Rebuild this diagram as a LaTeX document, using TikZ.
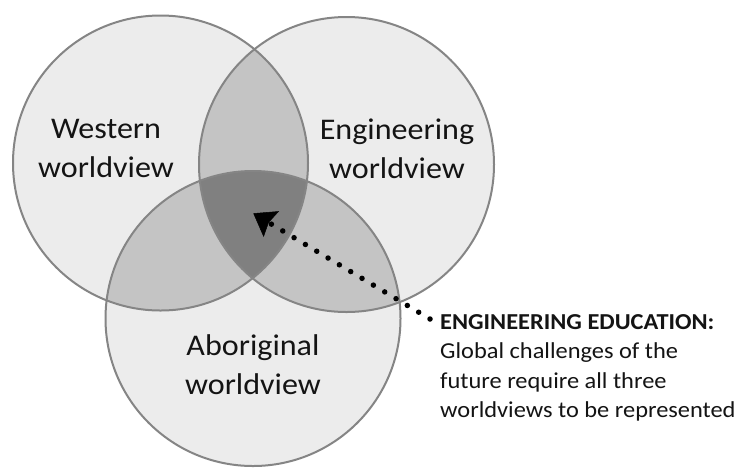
\documentclass[tikz,border=0pt]{standalone}
\usepackage{fontspec}
\setmainfont{Carlito}[FakeStretch=1.07]
\usetikzlibrary{arrows.meta}
\definecolor{lightfill}{HTML}{ECECEC}
\definecolor{midfill}{HTML}{C4C4C4}
\definecolor{darkfill}{HTML}{808080}
\definecolor{ringcol}{HTML}{858585}
\definecolor{txt}{HTML}{141414}
\begin{document}
\begin{tikzpicture}[x=1pt,y=-1pt,
  circlabel/.style={align=center,inner sep=0pt,anchor=north,text=txt,font=\fontsize{30}{39}\selectfont},
  ring/.style={draw=ringcol,line width=2pt},
  notetext/.style={align=left,inner sep=0pt,anchor=north west,text=txt,font=\fontsize{22.8}{29.3}\selectfont},
  dotline/.style={line width=5.5pt,line cap=round,dash pattern=on 0pt off 13.2pt,
    -{Stealth[length=21pt,width=30pt,inset=3pt,line width=0.5pt]}}]
\fill[white] (0,0) rectangle (743,467);
\useasboundingbox (0,0) rectangle (743,467);
\coordinate (cw) at (160.5,163);
\coordinate (ce) at (346.5,164.5);
\coordinate (ca) at (253,318.5);
\def\rr{147.5}
% base fills
\fill[lightfill] (cw) circle[radius=\rr];
\fill[lightfill] (ce) circle[radius=\rr];
\fill[lightfill] (ca) circle[radius=\rr];
% pairwise overlaps
\begin{scope}
  \clip (cw) circle[radius=\rr];
  \fill[midfill] (ce) circle[radius=\rr];
  \fill[midfill] (ca) circle[radius=\rr];
\end{scope}
\begin{scope}
  \clip (ce) circle[radius=\rr];
  \fill[midfill] (ca) circle[radius=\rr];
\end{scope}
% triple overlap
\begin{scope}
  \clip (cw) circle[radius=\rr];
  \clip (ce) circle[radius=\rr];
  \fill[darkfill] (ca) circle[radius=\rr];
\end{scope}
% outlines
\draw[ring] (cw) circle[radius=\rr];
\draw[ring] (ce) circle[radius=\rr];
\draw[ring] (ca) circle[radius=\rr];
% labels
\node[circlabel] (west) at (106,119) {Western\\worldview};
\node[circlabel] (eng) at (397,119) {Engineering\\worldview};
\node[circlabel] (abo) at (253,334.5) {Aboriginal\\worldview};
\node[notetext] (edu) at (440,314.5) {\textbf{ENGINEERING EDUCATION:}\\Global challenges of the\\future require all three\\worldviews to be represented};
% arrow
\coordinate (dotstart) at ([shift={(-10,4.5)}]edu.north west);
\coordinate (tip) at (253.3,213.3);
\draw[dotline] (dotstart) -- (tip);
\end{tikzpicture}
\end{document}
